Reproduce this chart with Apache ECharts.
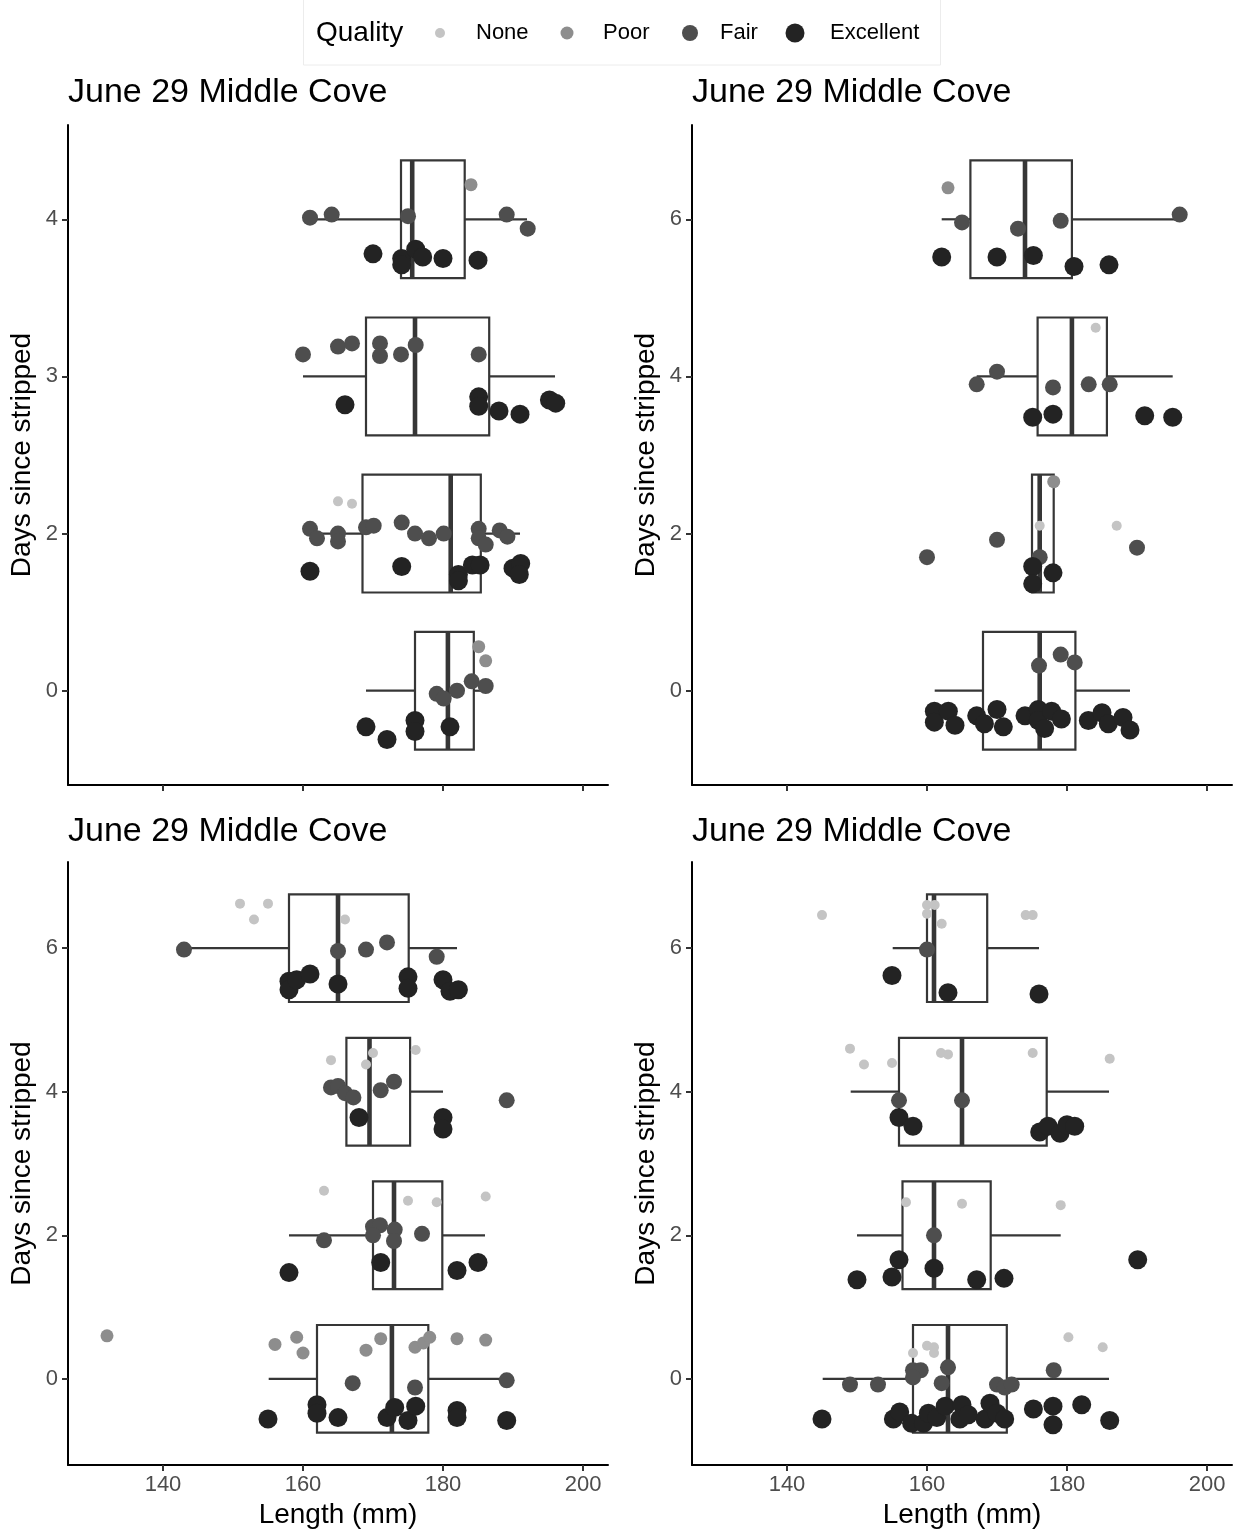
<!DOCTYPE html>
<html>
<head>
<meta charset="utf-8">
<script src="https://cdn.jsdelivr.net/npm/echarts@6/dist/echarts.min.js"></script>
<style>
  html, body { margin: 0; padding: 0; background: #fff; }
  #chart { width: 1241px; height: 1535px; }
</style>
</head>
<body>
<div id="chart"></div>
<script>
// ---- Quality classes ----
const qualities = ['None', 'Poor', 'Fair', 'Excellent'];

// ---- Shared axis values ----
const xTicks = [140, 160, 180, 200];
const xRange = [126.43, 203.57];
const panelTitle = 'June 29 Middle Cove';
const xTitle = 'Length (mm)';
const yTitle = 'Days since stripped';

// ---- Panel 1 ----
// y positions are on the day-category index scale (0..n-1), jittered
const p1Days = ['0', '2', '3', '4'];
// [dayIndex, lowerWhisker, q1, median, q3, upperWhisker]
const p1Box = [
  [0, 169.0, 176.0, 180.7, 184.4, 186.1],
  [1, 161.0, 168.5, 181.1, 185.4, 191.0],
  [2, 160.0, 169.0, 176.0, 186.6, 196.0],
  [3, 161.0, 174.0, 175.6, 183.1, 192.0]
];
const p1None = [[165.0, 1.205], [167.0, 1.19]];
const p1Poor = [[184.0, 3.22], [185.1, 0.28], [186.1, 0.19]];
const p1Fair = [
  [161.0, 3.01], [164.1, 3.03], [175.0, 3.02], [189.1, 3.03], [192.1, 2.94],
  [160.0, 2.14], [165.0, 2.19], [167.0, 2.21], [171.0, 2.21], [171.0, 2.13], [174.0, 2.14], [176.1, 2.20], [185.1, 2.14],
  [161.0, 1.03], [162.0, 0.97], [165.0, 1.00], [165.0, 0.95], [169.0, 1.04], [170.1, 1.05], [174.1, 1.07], [176.0, 1.00],
  [178.0, 0.97], [180.1, 1.00], [185.1, 1.03], [185.1, 0.97], [186.1, 0.93], [188.1, 1.02], [189.2, 0.98],
  [179.1, -0.02], [180.1, -0.05], [182.0, 0.00], [184.1, 0.06], [186.1, 0.03]
];
const p1Excellent = [
  [170.0, 2.78], [174.1, 2.75], [174.1, 2.71], [176.1, 2.81], [177.1, 2.76], [180.0, 2.75], [185.0, 2.74],
  [166.0, 1.82], [185.1, 1.87], [185.1, 1.81], [188.0, 1.78], [191.0, 1.76], [195.2, 1.85], [196.1, 1.83],
  [161.0, 0.76], [174.1, 0.79], [182.2, 0.74], [182.2, 0.70], [184.2, 0.80], [185.3, 0.80], [190.0, 0.78], [191.1, 0.81], [190.9, 0.74],
  [169.0, -0.23], [172.0, -0.31], [176.0, -0.19], [176.0, -0.26], [181.0, -0.23]
];

// ---- Panel 2 ----
const p2Days = ['0', '2', '4', '6'];
const p2Box = [
  [0, 161.1, 168.0, 176.1, 181.2, 189.0],
  [1, 175.0, 175.0, 176.1, 178.1, 178.1],
  [2, 167.1, 175.8, 180.7, 185.7, 195.1],
  [3, 162.1, 166.2, 174.0, 180.7, 196.1]
];
const p2None = [[184.1, 2.31], [176.1, 1.05], [187.1, 1.05]];
const p2Poor = [[163.0, 3.20], [178.1, 1.33]];
const p2Fair = [
  [165.0, 2.98], [173.0, 2.94], [179.1, 2.99], [196.1, 3.03],
  [167.1, 1.95], [170.0, 2.03], [178.0, 1.93], [183.1, 1.95], [186.1, 1.95],
  [160.0, 0.85], [170.0, 0.96], [176.1, 0.85], [190.0, 0.91],
  [176.0, 0.16], [179.1, 0.23], [181.1, 0.18]
];
const p2Excellent = [
  [162.1, 2.76], [170.0, 2.76], [175.2, 2.77], [181.0, 2.70], [186.0, 2.71],
  [175.1, 1.74], [178.0, 1.76], [191.1, 1.75], [195.1, 1.74],
  [175.1, 0.79], [175.1, 0.68], [178.0, 0.75],
  [161.05, -0.13], [161.05, -0.20], [163.05, -0.13], [164.0, -0.22],
  [167.1, -0.16], [168.2, -0.21], [170.0, -0.12], [170.9, -0.23],
  [174.0, -0.16], [175.9, -0.12], [175.9, -0.19], [176.8, -0.24], [177.8, -0.13], [179.2, -0.18],
  [183.05, -0.19], [185.0, -0.14], [185.9, -0.21], [188.0, -0.17], [189.0, -0.25]
];

// ---- Panel 3 ----
const p3Days = ['0', '2', '4', '6'];
const p3Box = [
  [0, 155.1, 162.0, 172.7, 177.9, 189.1],
  [1, 158.0, 170.0, 173.0, 179.9, 186.0],
  [2, 164.0, 166.2, 169.5, 175.3, 180.0],
  [3, 143.0, 158.0, 165.0, 175.1, 182.0]
];
const p3None = [
  [151.0, 3.31], [155.0, 3.31], [153.0, 3.20], [166.0, 3.20],
  [164.0, 2.22], [170.0, 2.27], [169.0, 2.19], [176.1, 2.29],
  [163.0, 1.31], [175.0, 1.24], [179.1, 1.23], [186.1, 1.27]
];
const p3Poor = [
  [132.0, 0.30], [156.0, 0.24], [159.1, 0.29], [160.0, 0.18], [169.0, 0.20], [171.1, 0.28],
  [176.0, 0.22], [177.2, 0.25], [178.1, 0.29], [182.0, 0.28], [186.1, 0.27]
];
const p3Fair = [
  [143.0, 2.99], [165.0, 2.98], [169.0, 2.99], [172.0, 3.04], [179.1, 2.94],
  [164.0, 2.03], [165.0, 2.04], [166.0, 1.99], [167.2, 1.96], [171.1, 2.01], [173.0, 2.07], [189.1, 1.94],
  [163.0, 0.965], [170.0, 1.06], [171.0, 1.07], [170.0, 1.00], [173.1, 1.04], [173.0, 0.96], [177.0, 1.01],
  [167.1, -0.03], [176.0, -0.06], [189.1, -0.01]
];
const p3Excellent = [
  [158.0, 2.77], [158.0, 2.71], [159.1, 2.78], [161.0, 2.82], [165.0, 2.75], [175.0, 2.80], [175.0, 2.72],
  [180.0, 2.78], [181.0, 2.70], [182.2, 2.71],
  [168.0, 1.82], [180.0, 1.82], [180.0, 1.74],
  [158.0, 0.74], [171.1, 0.81], [182.0, 0.755], [185.0, 0.81],
  [155.0, -0.28], [162.0, -0.18], [162.0, -0.24], [165.0, -0.27], [172.0, -0.27], [173.1, -0.20],
  [175.0, -0.29], [176.1, -0.19], [182.0, -0.22], [182.0, -0.27], [189.1, -0.29]
];

// ---- Panel 4 ----
const p4Days = ['0', '2', '4', '6'];
const p4Box = [
  [0, 145.1, 158.0, 163.0, 171.4, 186.0],
  [1, 150.0, 156.5, 161.0, 169.1, 179.1],
  [2, 149.1, 156.0, 165.0, 177.1, 186.0],
  [3, 155.1, 160.0, 161.0, 168.6, 176.0]
];
const p4None = [
  [145.0, 3.23], [160.0, 3.30], [161.1, 3.30], [160.0, 3.24], [162.1, 3.17], [174.1, 3.23], [175.1, 3.23],
  [149.0, 2.30], [151.0, 2.19], [155.0, 2.20], [162.0, 2.27], [163.0, 2.26], [175.1, 2.27], [186.1, 2.23],
  [157.0, 1.23], [165.0, 1.22], [179.1, 1.21],
  [158.0, 0.18], [160.0, 0.23], [161.0, 0.22], [161.0, 0.18], [180.2, 0.29], [185.1, 0.22]
];
const p4Poor = [];
const p4Fair = [
  [160.0, 2.99],
  [156.0, 1.94], [165.0, 1.94],
  [161.0, 1.00],
  [149.0, -0.04], [153.0, -0.04], [158.0, 0.06], [159.1, 0.06], [158.0, 0.01], [162.1, -0.03], [163.0, 0.08],
  [170.0, -0.04], [171.1, -0.06], [172.1, -0.04], [178.1, 0.06]
];
const p4Excellent = [
  [155.0, 2.81], [163.0, 2.69], [176.0, 2.68],
  [156.0, 1.82], [158.0, 1.76], [176.1, 1.72], [177.3, 1.76], [179.0, 1.71], [180.0, 1.77], [181.1, 1.76],
  [150.0, 0.69], [155.0, 0.71], [156.0, 0.83], [161.0, 0.77], [167.1, 0.69], [171.0, 0.70], [190.1, 0.83],
  [145.0, -0.28], [155.2, -0.28], [156.1, -0.23], [157.8, -0.31], [159.5, -0.31], [160.2, -0.24], [161.4, -0.27],
  [162.6, -0.19], [165.0, -0.18], [164.7, -0.28], [165.9, -0.25], [168.3, -0.28], [169.0, -0.17], [170.0, -0.24],
  [171.1, -0.28], [175.2, -0.21], [178.0, -0.19], [178.0, -0.32], [182.1, -0.18], [186.1, -0.29]
];

// ---- Styling ----
const FONT = '"Liberation Sans", Arial, Helvetica, sans-serif';
const qualityColors = ['#c4c4c4', '#8d8d8d', '#4e4e4e', '#232323'];
const qualitySizes = [10, 13, 16, 19];
const BOX_HALF = 0.375;          // half box height in day-index units
const BOX_COLOR = '#363636';

const panels = [
  { days: p1Days, box: p1Box, pts: [p1None, p1Poor, p1Fair, p1Excellent] },
  { days: p2Days, box: p2Box, pts: [p2None, p2Poor, p2Fair, p2Excellent] },
  { days: p3Days, box: p3Box, pts: [p3None, p3Poor, p3Fair, p3Excellent] },
  { days: p4Days, box: p4Box, pts: [p4None, p4Poor, p4Fair, p4Excellent] }
];

const grids = [
  { left: 68, top: 125, width: 540, height: 660 },
  { left: 692, top: 125, width: 540, height: 660 },
  { left: 68, top: 862, width: 540, height: 603 },
  { left: 692, top: 862, width: 540, height: 603 }
];
const titleTops = [76, 76, 815, 815];

function renderBox(params, api) {
  const idx = api.value(0);
  const pLo = api.coord([api.value(1), idx]);
  const pQ1 = api.coord([api.value(2), idx]);
  const pMed = api.coord([api.value(3), idx]);
  const pQ3 = api.coord([api.value(4), idx]);
  const pHi = api.coord([api.value(5), idx]);
  const half = api.size([0, BOX_HALF])[1];
  const y = pMed[1];
  return {
    type: 'group',
    children: [
      { type: 'line', shape: { x1: pLo[0], y1: y, x2: pQ1[0], y2: y },
        style: { stroke: BOX_COLOR, lineWidth: 2.2 } },
      { type: 'line', shape: { x1: pQ3[0], y1: y, x2: pHi[0], y2: y },
        style: { stroke: BOX_COLOR, lineWidth: 2.2 } },
      { type: 'rect', shape: { x: pQ1[0], y: y - half, width: pQ3[0] - pQ1[0], height: 2 * half },
        style: { fill: '#ffffff', stroke: BOX_COLOR, lineWidth: 2.2 } },
      { type: 'line', shape: { x1: pMed[0], y1: y - half, x2: pMed[0], y2: y + half },
        style: { stroke: BOX_COLOR, lineWidth: 4.6 } }
    ]
  };
}

const xAxes = [], yAxes = [], series = [], titles = [];
panels.forEach((p, i) => {
  const bottomRow = i >= 2;
  const yTicks = p.days.map((d, k) => k);
  titles.push({
    text: panelTitle, left: grids[i].left, top: titleTops[i], padding: 0,
    textStyle: { fontFamily: FONT, fontSize: 34, fontWeight: 'normal', color: '#000' }
  });
  xAxes.push({
    gridIndex: i, type: 'value', min: xRange[0], max: xRange[1],
    axisLine: { show: true, onZero: false, lineStyle: { color: '#000', width: 2 } },
    axisTick: { show: true, length: 6, customValues: xTicks, lineStyle: { color: '#333', width: 2 } },
    axisLabel: { show: bottomRow, customValues: xTicks, margin: 9, color: '#4d4d4d',
      fontSize: 22, fontFamily: FONT },
    splitLine: { show: false },
    name: bottomRow ? xTitle : '', nameLocation: 'middle', nameGap: 36,
    nameTextStyle: { fontFamily: FONT, fontSize: 28, color: '#000' }
  });
  yAxes.push({
    gridIndex: i, type: 'value', min: -0.6, max: p.days.length - 0.4,
    axisLine: { show: true, onZero: false, lineStyle: { color: '#000', width: 2 } },
    axisTick: { show: true, length: 6, customValues: yTicks, lineStyle: { color: '#333', width: 2 } },
    axisLabel: { customValues: yTicks, margin: 10, color: '#4d4d4d', fontSize: 22, fontFamily: FONT,
      formatter: (v) => p.days[Math.round(v)] },
    splitLine: { show: false },
    name: yTitle, nameLocation: 'middle', nameRotate: 90, nameGap: 32,
    nameTextStyle: { fontFamily: FONT, fontSize: 28, color: '#000' }
  });
  series.push({
    type: 'custom', xAxisIndex: i, yAxisIndex: i, data: p.box,
    encode: { x: [1, 2, 3, 4, 5], y: 0 }, renderItem: renderBox, z: 2, silent: true
  });
  qualities.forEach((q, k) => {
    series.push({
      type: 'scatter', name: q, xAxisIndex: i, yAxisIndex: i, data: p.pts[k],
      symbol: 'circle', symbolSize: qualitySizes[k],
      itemStyle: { color: qualityColors[k], opacity: 1 },
      emphasis: { disabled: true }, z: 3 + k
    });
  });
});

// Legend drawn as a keyed strip across the top
const legendDotX = [440, 567, 690, 795];
const legendTextX = [476, 603, 720, 830];
const legendGraphics = [
  { type: 'rect', shape: { x: 303.5, y: -1, width: 637, height: 66 },
    style: { fill: '#fff', stroke: '#ececec', lineWidth: 1 } },
  { type: 'text', x: 316, y: 33,
    style: { text: 'Quality', fontFamily: FONT, fontSize: 28, fill: '#000', verticalAlign: 'middle' } }
];
qualities.forEach((q, k) => {
  legendGraphics.push({ type: 'circle', shape: { cx: legendDotX[k], cy: 33, r: qualitySizes[k] / 2 },
    style: { fill: qualityColors[k] } });
  legendGraphics.push({ type: 'text', x: legendTextX[k], y: 33,
    style: { text: q, fontFamily: FONT, fontSize: 22, fill: '#000', verticalAlign: 'middle' } });
});

const chart = echarts.init(document.getElementById('chart'), null, { renderer: 'canvas' });
chart.setOption({
  backgroundColor: '#ffffff',
  animation: false,
  textStyle: { fontFamily: FONT },
  title: titles,
  grid: grids,
  xAxis: xAxes,
  yAxis: yAxes,
  series: series,
  graphic: legendGraphics
});
</script>
</body>
</html>
